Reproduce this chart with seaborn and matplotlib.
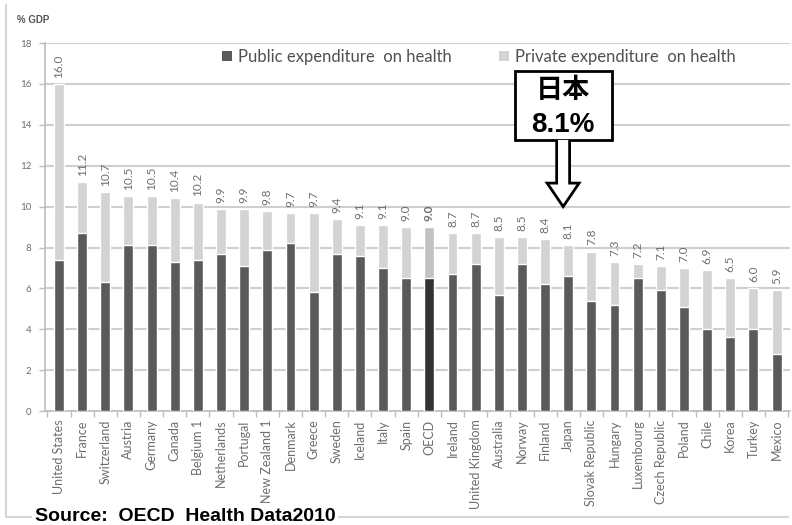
import matplotlib
matplotlib.use("Agg")
import matplotlib.pyplot as plt
from matplotlib.patches import Rectangle, Polygon, Patch
from matplotlib.lines import Line2D
import seaborn as sns
import pandas as pd

# Total health expenditure (% of GDP) and its public share, OECD Health Data 2010
countries = ["United States", "France", "Switzerland", "Austria", "Germany", "Canada",
             "Belgium 1", "Netherlands", "Portugal", "New Zealand 1", "Denmark", "Greece",
             "Sweden", "Iceland", "Italy", "Spain", "OECD", "Ireland", "United Kingdom",
             "Australia", "Norway", "Finland", "Japan", "Slovak Republic", "Hungary",
             "Luxembourg", "Czech Republic", "Poland", "Chile", "Korea", "Turkey", "Mexico"]
total = [16.0, 11.2, 10.7, 10.5, 10.5, 10.4, 10.2, 9.9, 9.9, 9.8, 9.7, 9.7, 9.4, 9.1, 9.1,
         9.0, 9.0, 8.7, 8.7, 8.5, 8.5, 8.4, 8.1, 7.8, 7.3, 7.2, 7.1, 7.0, 6.9, 6.5, 6.0, 5.9]
public = [7.4, 8.7, 6.3, 8.1, 8.1, 7.3, 7.4, 7.7, 7.1, 7.9, 8.2, 5.8, 7.7, 7.6, 7.0,
          6.5, 6.5, 6.7, 7.2, 5.7, 7.2, 6.2, 6.6, 5.4, 5.2, 6.5, 5.9, 5.1, 4.0, 3.6, 4.0, 2.8]
yticks = [0, 2, 4, 6, 8, 10, 12, 14, 16, 18]

PUBLIC = "#5a5a5a"
PRIVATE = "#d3d3d3"
GREY_TXT = "#6e6e6e"

sns.set_theme(style="white")
plt.rcParams["font.family"] = ["Lato", "DejaVu Sans"]

df = pd.DataFrame({"country": countries, "total": total, "public": public})

fig = plt.figure(figsize=(7.92, 5.25), dpi=100)
ax = fig.add_axes([0.057, 0.217, 0.941, 0.701])

total_pal = {c: ("#c2c2c2" if c == "OECD" else PRIVATE) for c in countries}
public_pal = {c: ("#333333" if c == "OECD" else PUBLIC) for c in countries}

# private share sits on top of the public share: draw the total first, public over it
sns.barplot(data=df, x="country", y="total", hue="country", palette=total_pal,
            width=0.43, saturation=1, legend=False, ax=ax, zorder=2)
sns.barplot(data=df, x="country", y="public", hue="country", palette=public_pal,
            width=0.43, saturation=1, legend=False, ax=ax, zorder=3)

for i, (c, v) in enumerate(zip(countries, total)):
    ax.text(i, v + 0.3, f"{v:.1f}", rotation=90, ha="center", va="bottom",
            fontsize=8.5, color=GREY_TXT,
            fontweight="bold" if c == "OECD" else "normal")

ax.set_xlim(-0.6, len(countries) - 0.4)
ax.set_ylim(0, 18)
ax.set_yticks(yticks)
ax.set_yticklabels([str(t) for t in yticks], fontsize=7, color=GREY_TXT)
ax.set_xticks(range(len(countries)))
ax.set_xticklabels(countries, rotation=90, fontsize=9, color=GREY_TXT)
ax.set_xticks([i + 0.5 for i in range(-1, len(countries))], minor=True)
ax.tick_params(axis="x", which="major", length=0, pad=6)
ax.tick_params(axis="x", which="minor", length=4, color="#bdbdbd", width=1, bottom=True)
ax.tick_params(axis="y", length=4, color="#bdbdbd", width=1, left=True, pad=6)
ax.set_xlabel("")
ax.set_ylabel("")
ax.yaxis.grid(True, color="#cfcfcf", linewidth=1.5, zorder=0)
ax.set_axisbelow(True)
for s in ["top", "right"]:
    ax.spines[s].set_visible(False)
for s in ["left", "bottom"]:
    ax.spines[s].set_color("#bdbdbd")
    ax.spines[s].set_linewidth(1.2)

fig.text(0.021, 0.962, "% GDP", fontsize=7, fontweight="bold", color="#555555",
         family=["Liberation Sans"], ha="left", va="center")

handles = [Patch(facecolor=PUBLIC, edgecolor="none"), Patch(facecolor=PRIVATE, edgecolor="none")]
ax.legend(handles, ["Public expenditure  on health", "Private expenditure  on health"],
          ncol=2, loc="center", bbox_to_anchor=(0.582, 0.962), frameon=False,
          fontsize=12, handlelength=0.6, handleheight=0.6, handletextpad=0.4,
          columnspacing=2.8, labelcolor="#505050")

# callout pointing at Japan
bx0, bx1, by0, by1 = 19.69, 23.88, 13.26, 16.63
ax.add_patch(Rectangle((bx0, by0), bx1 - bx0, by1 - by0, facecolor="white",
                       edgecolor="black", linewidth=2, zorder=10, clip_on=False))
cx, hw, hh, head_y, tip_y = 21.78, 0.28, 0.69, 11.15, 10.0
arrow = [(cx - hw, by0), (cx - hw, head_y), (cx - hh, head_y), (cx, tip_y),
         (cx + hh, head_y), (cx + hw, head_y), (cx + hw, by0)]
ax.add_patch(Polygon(arrow, closed=False, facecolor="white", edgecolor="black",
                     linewidth=2, zorder=10, clip_on=False, joinstyle="miter"))
tx = (bx0 + bx1) / 2
ax.text(tx, 15.72, "日本", ha="center", va="center", fontsize=19.5, fontweight="bold",
        family=["Noto Sans CJK JP"], color="black", zorder=11)
ax.text(tx, 13.98, "8.1%", ha="center", va="center", fontsize=20, fontweight="bold",
        family=["Liberation Sans"], color="black", zorder=11)

# outer frame
fig.add_artist(Line2D([0.008, 0.008], [0.015, 0.99], color="#d6d6d6", linewidth=1.5))
fig.add_artist(Line2D([0.008, 0.995], [0.015, 0.015], color="#d6d6d6", linewidth=1.5))
fig.text(0.044, 0.017, "Source:  OECD  Health Data2010", fontsize=14, fontweight="bold",
         family=["Liberation Sans"], color="black", ha="left", va="center",
         bbox=dict(facecolor="white", edgecolor="none", pad=2))

fig.savefig("out.png", dpi=100)
